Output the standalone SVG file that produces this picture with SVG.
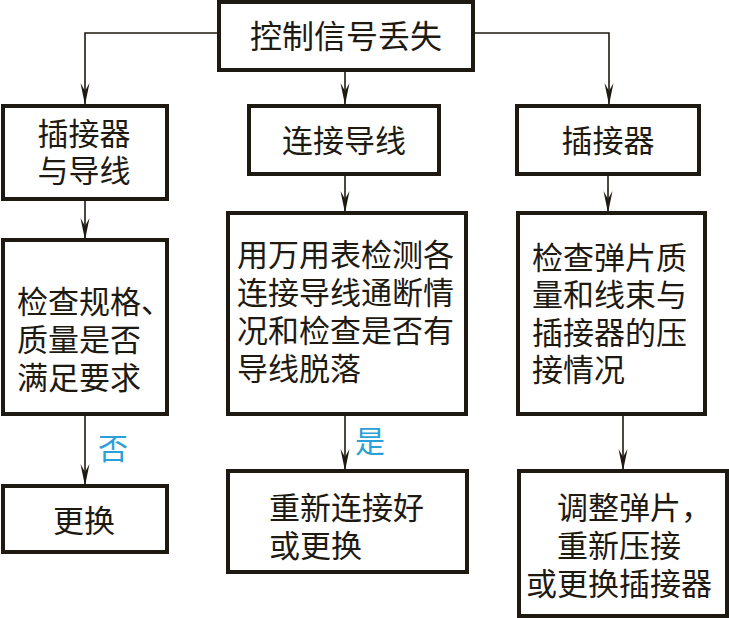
<svg xmlns="http://www.w3.org/2000/svg" width="729" height="618" viewBox="0 0 729 618">
  <style>
    .box { fill: #ffffff; stroke: #1e1a12; stroke-width: 4; }
    .t { font-family: "Noto Sans CJK SC", "Noto Sans", sans-serif; font-size: 31px; fill: #1e1a12; }
    .c { text-anchor: middle; }
    .lbl { font-family: "Noto Sans CJK SC", "Noto Sans", sans-serif; font-size: 30px; fill: #2b9fd8; }
    .edge { fill: none; stroke: #1e1a12; stroke-width: 1.6; marker-end: url(#arr); }
  </style>
  <defs>
    <marker id="arr" markerUnits="userSpaceOnUse" markerWidth="24" markerHeight="12" viewBox="-23 -6 24 12" refX="0" refY="0" orient="auto">
      <path d="M0,0 L-22,-4.5 L-14,0 L-22,4.5 Z" fill="#1e1a12"/>
    </marker>
  </defs>
  <rect width="729" height="618" fill="#ffffff"/>

  <g id="connectors">
    <path class="edge" d="M219,33 H85 V105"/>
    <path class="edge" d="M473,33 H609 V105"/>
    <path class="edge" d="M345,70 V105"/>
    <path class="edge" d="M85,199 V240"/>
    <path class="edge" d="M345,174 V213"/>
    <path class="edge" d="M608,174 V213"/>
    <path class="edge" d="M85,414 V486"/>
    <path class="edge" d="M345,414 V471"/>
    <path class="edge" d="M623,414 V471"/>
    <text class="lbl" x="113" y="459" text-anchor="middle">否</text>
    <text class="lbl" x="370" y="452" text-anchor="middle">是</text>
  </g>

  <g id="n_root">
    <rect class="box" x="219" y="2" width="254" height="68"/>
    <text class="t c" x="346" y="48" style="font-size:32px">控制信号丢失</text>
  </g>

  <g id="n_left1">
    <rect class="box" x="3" y="106" width="164" height="93"/>
    <text class="t c" x="84" y="145">插接器</text>
    <text class="t c" x="84" y="182">与导线</text>
  </g>

  <g id="n_mid1">
    <rect class="box" x="249" y="106" width="190" height="68"/>
    <text class="t c" x="344" y="152">连接导线</text>
  </g>

  <g id="n_right1">
    <rect class="box" x="517" y="106" width="182" height="68"/>
    <text class="t c" x="608" y="152">插接器</text>
  </g>

  <g id="n_left2">
    <rect class="box" x="3" y="240" width="164" height="174"/>
    <text class="t" x="17" y="313">检查规格、</text>
    <text class="t" x="17" y="351">质量是否</text>
    <text class="t" x="17" y="389">满足要求</text>
  </g>

  <g id="n_mid2">
    <rect class="box" x="228" y="213" width="238" height="201"/>
    <text class="t" x="237" y="266">用万用表检测各</text>
    <text class="t" x="237" y="304">连接导线通断情</text>
    <text class="t" x="237" y="342">况和检查是否有</text>
    <text class="t" x="237" y="380">导线脱落</text>
  </g>

  <g id="n_right2">
    <rect class="box" x="518" y="213" width="187" height="201"/>
    <text class="t" x="532" y="269">检查弹片质</text>
    <text class="t" x="532" y="306">量和线束与</text>
    <text class="t" x="532" y="344">插接器的压</text>
    <text class="t" x="532" y="381">接情况</text>
  </g>

  <g id="n_left3">
    <rect class="box" x="3" y="486" width="164" height="66"/>
    <text class="t c" x="84" y="532">更换</text>
  </g>

  <g id="n_mid3">
    <rect class="box" x="228" y="471" width="239" height="101"/>
    <text class="t" x="269" y="519">重新连接好</text>
    <text class="t" x="269" y="557">或更换</text>
  </g>

  <g id="n_right3">
    <rect class="box" x="519" y="471" width="208" height="145"/>
    <text class="t" x="557" y="519">调整弹片，</text>
    <text class="t" x="557" y="557">重新压接</text>
    <text class="t" x="526" y="595">或更换插接器</text>
  </g>
</svg>
